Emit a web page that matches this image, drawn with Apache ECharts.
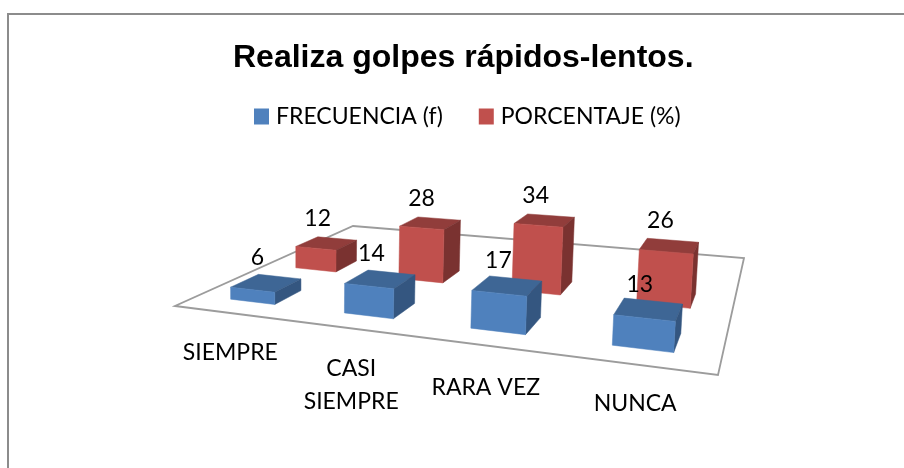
<!DOCTYPE html>
<html>
<head>
<meta charset="utf-8">
<script src="https://cdn.jsdelivr.net/npm/echarts@6/dist/echarts.min.js"></script>
<style>html,body{margin:0;padding:0;background:#fff}#c{width:904px;height:468px}</style>
</head>
<body>
<div id="c"></div>
<script>
// ---- data ----
const titleText = 'Realiza golpes rápidos-lentos.';
const categories = ['SIEMPRE', 'CASI\nSIEMPRE', 'RARA VEZ', 'NUNCA'];
const freqName = 'FRECUENCIA (f)';
const pctName = 'PORCENTAJE (%)';
const frecuencia = [6, 14, 17, 13];
const porcentaje = [12, 28, 34, 26];

// ---- camera: floor corners (front-left, front-right, back-right, back-left) and vertical direction ----
const floorCorners = [[175, 306], [718, 375], [744, 258], [353, 226]];
const vert = { a: -0.0856, b: -2.13, c: -2.93e-4 };
const rowCentre = { front: 0.165, back: 0.497 };
const rowDepth = 0.132;
const barShare = 0.4;
const valueMax = 40;
const labelNudge = [[0, 40], [1, 57], [1.5, 42], [0, 39]];
const valueLabelNudge = [-9, -25];

const COL = {
  blue: { front: '#4F81BD', top: '#3E6695', side: '#345680' },
  red: { front: '#C0504D', top: '#913D3B', side: '#7A3230' }
};

function homography(q) {
  const [A, B, C, D] = q;
  const dx1 = [B[0] - C[0], B[1] - C[1]], dx2 = [D[0] - C[0], D[1] - C[1]];
  const s = [A[0] - B[0] + C[0] - D[0], A[1] - B[1] + C[1] - D[1]];
  const det = dx1[0] * dx2[1] - dx2[0] * dx1[1];
  const g = (s[0] * dx2[1] - dx2[0] * s[1]) / det;
  const h = (dx1[0] * s[1] - s[0] * dx1[1]) / det;
  return {
    a: B[0] - A[0] + g * B[0], b: D[0] - A[0] + h * D[0], c: A[0],
    d: B[1] - A[1] + g * B[1], e: D[1] - A[1] + h * D[1], f: A[1], g, h
  };
}
const H = homography(floorCorners);
function project(u, v, z) {
  const w = H.g * u + H.h * v + 1 + vert.c * z;
  return [(H.a * u + H.b * v + H.c + vert.a * z) / w, (H.d * u + H.e * v + H.f + vert.b * z) / w];
}

// turn the flat grid position given by the axes into floor fraction and height
function toSpace(params, api, cat, val) {
  const cs = params.coordSys;
  const p = api.coord([cat, val]);
  return { u: (p[0] - cs.x) / cs.width, z: (cs.y + cs.height - p[1]) / cs.height * valueMax };
}

function barRender(row, col) {
  return function (params, api) {
    const cs = params.coordSys;
    const s = toSpace(params, api, api.value(0), api.value(1));
    const half = api.size([1, 0])[0] / cs.width * barShare / 2;
    const u0 = s.u - half, u1 = s.u + half;
    const v0 = row - rowDepth / 2, v1 = row + rowDepth / 2;
    const z = s.z;
    const fbl = project(u0, v0, 0), fbr = project(u1, v0, 0), ftl = project(u0, v0, z), ftr = project(u1, v0, z);
    const bbr = project(u1, v1, 0), btl = project(u0, v1, z), btr = project(u1, v1, z);
    const poly = (pts, fill) => ({
      type: 'polygon', shape: { points: pts },
      style: { fill: fill, stroke: fill, lineWidth: 0.5 }
    });
    const top = project((u0 + u1) / 2, (v0 + v1) / 2, z);
    return {
      type: 'group',
      children: [
        poly([ftl, ftr, btr, btl], col.top),
        poly([fbr, bbr, btr, ftr], col.side),
        poly([fbl, fbr, ftr, ftl], col.front),
        {
          type: 'text', z2: 50,
          style: {
            x: top[0] + valueLabelNudge[0], y: top[1] + valueLabelNudge[1],
            text: String(api.value(1)), align: 'center', verticalAlign: 'middle',
            font: '23px Lato', fill: '#000'
          }
        }
      ]
    };
  };
}

function floorRender(params, api) {
  const cat = api.value(0);
  const s = toSpace(params, api, cat, 0);
  const p = project(s.u, 0, 0);
  const children = [{
    type: 'text',
    style: {
      x: p[0] + labelNudge[cat][0], y: p[1] + labelNudge[cat][1],
      text: categories[cat], align: 'center', verticalAlign: 'middle',
      font: '23px Lato', fill: '#000', lineHeight: 33
    }
  }];
  if (cat === 0) {
    children.unshift({
      type: 'polygon',
      shape: { points: floorCorners },
      style: { fill: '#fff', stroke: '#9C9C9C', lineWidth: 1.8 }
    });
  }
  return { type: 'group', children };
}

const chart = echarts.init(document.getElementById('c'));
chart.setOption({
  animation: false,
  backgroundColor: '#fff',
  title: {
    text: titleText, left: 228, top: 37,
    textStyle: { fontFamily: 'Liberation Sans', fontWeight: 'bold', fontSize: 32, color: '#000' }
  },
  legend: {
    data: [freqName, pctName], left: 249, top: 100, icon: 'rect',
    itemWidth: 15, itemHeight: 16, itemGap: 36, selectedMode: false,
    textStyle: { fontFamily: 'Lato', fontSize: 23, color: '#000', padding: [0, 0, 0, 2] }
  },
  grid: { left: 100, right: 100, top: 100, bottom: 100, show: false },
  xAxis: { type: 'category', data: categories, show: false },
  yAxis: { type: 'value', min: 0, max: valueMax, show: false },
  graphic: [
    { type: 'line', shape: { x1: 8, y1: 14, x2: 904, y2: 14 }, style: { stroke: '#8C8C8C', lineWidth: 2 }, z: -1 },
    { type: 'line', shape: { x1: 8, y1: 13, x2: 8, y2: 468 }, style: { stroke: '#8C8C8C', lineWidth: 2 }, z: -1 }
  ],
  series: [
    { type: 'custom', name: 'suelo', clip: false, z: 1, renderItem: floorRender, data: categories.map((c, i) => [i, 0]) },
    { type: 'custom', name: pctName, clip: false, z: 2, renderItem: barRender(rowCentre.back, COL.red),
      itemStyle: { color: COL.red.front }, data: porcentaje.map((v, i) => [i, v]) },
    { type: 'custom', name: freqName, clip: false, z: 3, renderItem: barRender(rowCentre.front, COL.blue),
      itemStyle: { color: COL.blue.front }, data: frecuencia.map((v, i) => [i, v]) }
  ]
});
</script>
</body>
</html>
